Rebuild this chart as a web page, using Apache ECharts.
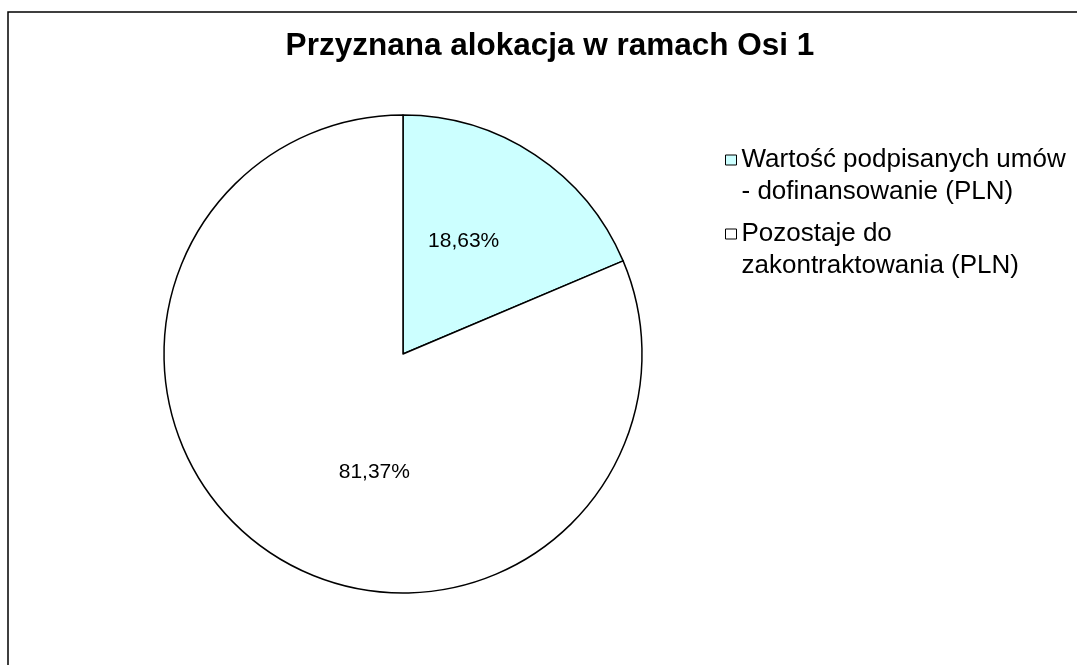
<!DOCTYPE html>
<html>
<head>
<meta charset="utf-8">
<script src="https://cdn.jsdelivr.net/npm/echarts@6/dist/echarts.min.js"></script>
<style>
  html, body { margin: 0; padding: 0; background: #fff; }
  #chart { width: 1077px; height: 665px; }
</style>
</head>
<body>
<div id="chart"></div>
<script>
// dane wykresu
var titleText = "Przyznana alokacja w ramach Osi 1";
var categories = ["Wartość podpisanych umów\n- dofinansowanie (PLN)", "Pozostaje do\nzakontraktowania (PLN)"];
var shares = [18.63, 81.37];
var sliceColors = ["#CCFFFF", "#FFFFFF"];

var font = "Liberation Sans, Arial, sans-serif";
var chart = echarts.init(document.getElementById("chart"));

var pieData = categories.map(function (name, i) {
  return { name: name, value: shares[i], itemStyle: { color: sliceColors[i] } };
});

// przesuniecia etykiet (Excel nie stawia ich w srodku kata)
var labelShift = [[-7, -11], [39, 16]];

// pusta pierwsza linia -> znacznik na wysokosci pierwszej linii tekstu
function legendFor(i, top) {
  return {
    data: [categories[i]],
    left: 725,
    top: top,
    padding: 0,
    orient: "vertical",
    icon: "rect",
    itemWidth: 11,
    itemHeight: 10,
    itemGap: 4,
    selectedMode: false,
    itemStyle: { borderColor: "#000", borderWidth: 1 },
    formatter: function (name) { return "\n" + name; },
    textStyle: {
      fontFamily: font,
      fontSize: 26,
      color: "#000",
      lineHeight: 32
    }
  };
}

chart.setOption({
  backgroundColor: "#fff",
  animation: false,
  title: {
    text: titleText,
    left: 545,
    top: 25,
    textAlign: "center",
    textStyle: { fontFamily: font, fontSize: 31.5, fontWeight: "bold", color: "#000" }
  },
  legend: [legendFor(0, 112), legendFor(1, 186)],
  graphic: [{
    type: "rect",
    shape: { x: 8, y: 12, width: 2000, height: 2000 },
    style: { fill: null, stroke: "#000", lineWidth: 1.5 },
    silent: true
  }],
  series: [{
    type: "pie",
    center: [403, 354],
    radius: 239,
    startAngle: 90,
    clockwise: true,
    data: pieData,
    itemStyle: { borderColor: "#000", borderWidth: 1.5 },
    label: {
      position: "inside",
      fontFamily: font,
      fontSize: 21,
      color: "#000",
      formatter: function (p) {
        return p.value.toFixed(2).replace(".", ",") + "%";
      }
    },
    labelLine: { show: false },
    labelLayout: function (p) {
      var s = labelShift[p.dataIndex];
      return { dx: s[0], dy: s[1] };
    },
    emphasis: { disabled: true }
  }]
});
</script>
</body>
</html>
